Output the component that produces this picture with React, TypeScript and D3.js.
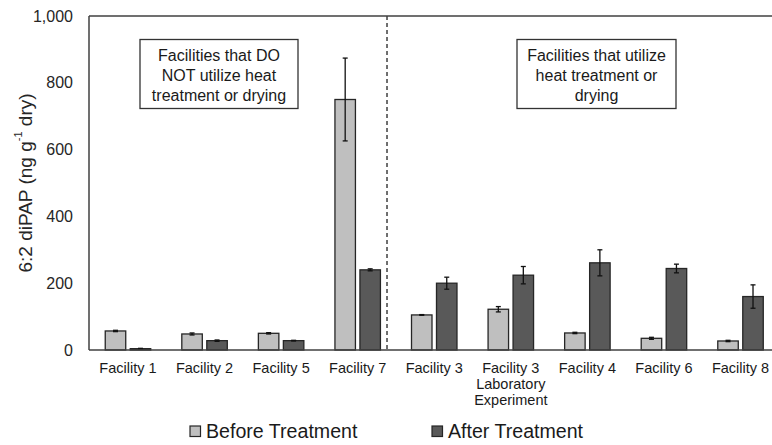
import React from "react";
import * as d3 from "d3";

const categories: string[][] = [
  ["Facility 1"],
  ["Facility 2"],
  ["Facility 5"],
  ["Facility 7"],
  ["Facility 3"],
  ["Facility 3", "Laboratory", "Experiment"],
  ["Facility 4"],
  ["Facility 6"],
  ["Facility 8"],
];
const seriesNames = ["Before Treatment", "After Treatment"];
const beforeValues = [57, 48, 50, 750, 105, 122, 51, 35, 27];
const beforeErrors = [2, 3, 2, 124, 1, 8, 2, 3, 2];
const afterValues = [4, 28, 28, 240, 200, 224, 261, 244, 160];
const afterErrors = [1, 2, 1, 3, 18, 26, 39, 13, 35];
const yTicks = [0, 200, 400, 600, 800, 1000];
const boxLeft = ["Facilities that DO", "NOT utilize heat", "treatment or drying"];
const boxRight = ["Facilities that utilize", "heat treatment or", "drying"];

const W = 772;
const H = 445;
const FONT = "'Liberation Sans', Arial, sans-serif";
const COLORS = ["#bfbfbf", "#595959"];
const STROKE = "#262626";

export default function App() {
  const keys = categories.map((c) => c.join(" "));
  const x = d3.scaleBand<string>().domain(keys).range([89.7, 778.8]).padding(0);
  const step = x.step();
  const inner = d3
    .scaleBand<string>()
    .domain(seriesNames)
    .range([step * 0.203, step * 0.797])
    .paddingInner(0.18)
    .paddingOuter(0);
  const y = d3.scaleLinear().domain([0, 1000]).range([350, 16]);
  const fmt = d3.format(",");
  const x0 = 89;
  const series = [
    { name: seriesNames[0], values: beforeValues, errors: beforeErrors, color: COLORS[0] },
    { name: seriesNames[1], values: afterValues, errors: afterErrors, color: COLORS[1] },
  ];
  const dashX = (x(keys[3]) as number) + step * 0.883;

  return (
    <svg
      width={W}
      height={H}
      style={{ position: "absolute", left: 0, top: 0, display: "block", background: "#fff" }}
      fontFamily={FONT}
    >
      <rect x={0} y={0} width={W} height={H} fill="#fff" />
      <line x1={x0} x2={W} y1={y(1000)} y2={y(1000)} stroke="#404040" strokeWidth={1.5} />
      <line x1={x0} x2={x0} y1={y(1000)} y2={y(0)} stroke="#404040" strokeWidth={1.5} />
      {yTicks.map((t) => (
        <text key={t} x={73} y={y(t)} dy="0.35em" textAnchor="end" fontSize={16} fill="#262626">
          {fmt(t)}
        </text>
      ))}
      <text
        transform={`translate(25,${(y(0) + y(1000)) / 2}) rotate(-90)`}
        textAnchor="middle"
        dominantBaseline="central"
        fontSize={19}
        fill="#262626"
      >
        <tspan>6:2 diPAP (ng g</tspan>
        <tspan fontSize={11} dy={-7}>-1</tspan>
        <tspan dy={7}> dry)</tspan>
      </text>
      <line
        x1={dashX}
        x2={dashX}
        y1={y(1000)}
        y2={y(0)}
        stroke="#404040"
        strokeWidth={1.5}
        strokeDasharray="4,3"
      />
      {series.map((s) =>
        s.values.map((v, i) => {
          const bx = (x(keys[i]) as number) + (inner(s.name) as number);
          const bw = inner.bandwidth();
          return (
            <rect
              key={s.name + i}
              x={bx}
              y={y(v)}
              width={bw}
              height={y(0) - y(v)}
              fill={s.color}
              stroke={STROKE}
              strokeWidth={1.3}
            />
          );
        })
      )}
      {series.map((s) =>
        s.values.map((v, i) => {
          const cx = (x(keys[i]) as number) + (inner(s.name) as number) + inner.bandwidth() / 2;
          const e = s.errors[i];
          const yt = y(v + e);
          const yb = y(v - e);
          return (
            <g key={"e" + s.name + i} stroke="#111" strokeWidth={1.3}>
              <line x1={cx} x2={cx} y1={yt} y2={yb} />
              <line x1={cx - 2.5} x2={cx + 2.5} y1={yt} y2={yt} />
              <line x1={cx - 2.5} x2={cx + 2.5} y1={yb} y2={yb} />
            </g>
          );
        })
      )}
      <line x1={x0} x2={W} y1={y(0)} y2={y(0)} stroke="#404040" strokeWidth={1.5} />
      {categories.map((lines, i) => (
        <text
          key={keys[i]}
          x={(x(keys[i]) as number) + step / 2}
          y={373}
          textAnchor="middle"
          fontSize={14.5}
          fill="#1a1a1a"
        >
          {lines.map((l, j) => (
            <tspan key={j} x={(x(keys[i]) as number) + step / 2} dy={j === 0 ? 0 : 16}>
              {l}
            </tspan>
          ))}
        </text>
      ))}
      {[
        { lines: boxLeft, x1: 140, x2: 298 },
        { lines: boxRight, x1: 517, x2: 676 },
      ].map((b, k) => (
        <g key={k}>
          <rect x={b.x1} y={39.5} width={b.x2 - b.x1} height={69} fill="#fff" stroke="#333" strokeWidth={1.3} />
          <text textAnchor="middle" fontSize={16} fill="#1a1a1a">
            {b.lines.map((l, j) => (
              <tspan key={j} x={(b.x1 + b.x2) / 2} y={60.5 + j * 20}>
                {l}
              </tspan>
            ))}
          </text>
        </g>
      ))}
      {series.map((s, k) => {
        const lx = k === 0 ? 190 : 432;
        return (
          <g key={"lg" + k}>
            <rect x={lx} y={426} width={10.5} height={10.5} fill={s.color} stroke={STROKE} strokeWidth={1.2} />
            <text x={lx + 16} y={437.5} fontSize={19.6} fill="#1a1a1a">
              {s.name}
            </text>
          </g>
        );
      })}
    </svg>
  );
}
